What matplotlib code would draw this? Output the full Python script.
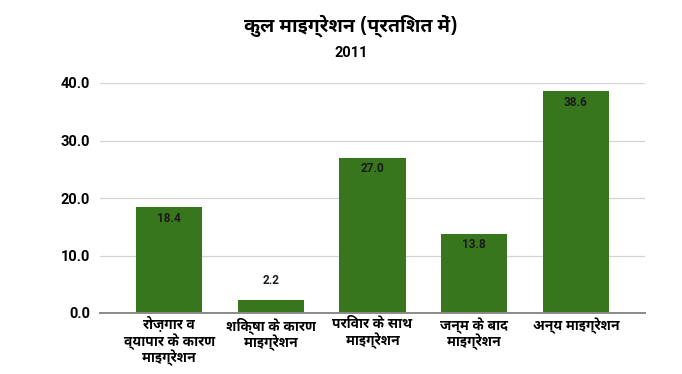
import matplotlib
matplotlib.use("Agg")
import matplotlib.pyplot as plt

# ---- data ----
categories = [
    "रोज़गार व\nव्यापार के कारण\nमाइग्रेशन",
    "शिक्षा के कारण\nमाइग्रेशन",
    "परिवार के साथ\nमाइग्रेशन",
    "जन्म के बाद\nमाइग्रेशन",
    "अन्य माइग्रेशन",
]
values = [18.4, 2.2, 27.0, 13.8, 38.6]
yticks = [0, 10, 20, 30, 40]
title = "कुल माइग्रेशन (प्रतिशत में)"
subtitle = "2011"

DEV = ["Noto Sans Devanagari UI", "Noto Sans Devanagari", "Hind", "DejaVu Sans"]
NUM = ["Roboto", "DejaVu Sans"]
BAR = "#38761d"

fig = plt.figure(figsize=(6.82, 3.74), dpi=100)
ax = fig.add_axes([100 / 682, 61 / 374, 545 / 682, 230 / 374])

x = list(range(len(values)))
bars = ax.bar(x, values, width=0.65, color=BAR, zorder=3)

ax.set_xlim(-0.68, len(values) - 1 + 0.68)
ax.set_ylim(0, 40)
ax.set_yticks(yticks)
ax.set_yticklabels([f"{v:.1f}" for v in yticks], family=NUM, fontweight="bold",
                   fontsize=10.5, color="#000000")
ax.tick_params(axis="y", length=0, pad=7)
ax.set_xticks(x)
ax.set_xticklabels(categories, family=DEV, fontweight="bold", fontsize=10,
                   color="#000000", linespacing=1.0, va="top")
ax.tick_params(axis="x", length=0, pad=3)

for s in ["top", "right", "left"]:
    ax.spines[s].set_visible(False)
ax.spines["bottom"].set_color("#8a8a8a")
ax.spines["bottom"].set_linewidth(1.4)
ax.spines["bottom"].set_zorder(4)
ax.grid(axis="y", color="#d4d4d4", linewidth=0.9, zorder=0)
ax.set_axisbelow(True)

for rect, v in zip(bars, values):
    cx = rect.get_x() + rect.get_width() / 2
    off = -8 if v > 5 else 14
    ax.annotate(f"{v:.1f}", (cx, v), xytext=(0, off), textcoords="offset points",
                ha="center", va="center", family=NUM, fontweight="bold",
                fontsize=8.5, color="#1a1a1a", zorder=5)

fig.text(351 / 682, 1 - 26 / 374, title, ha="center", va="center", family=DEV,
         fontweight="bold", fontsize=14, color="#000000")
fig.text(351 / 682, 1 - 53 / 374, subtitle, ha="center", va="center", family=NUM,
         fontweight="bold", fontsize=10.5, color="#000000")

fig.savefig("out.png", dpi=100, facecolor="white")
